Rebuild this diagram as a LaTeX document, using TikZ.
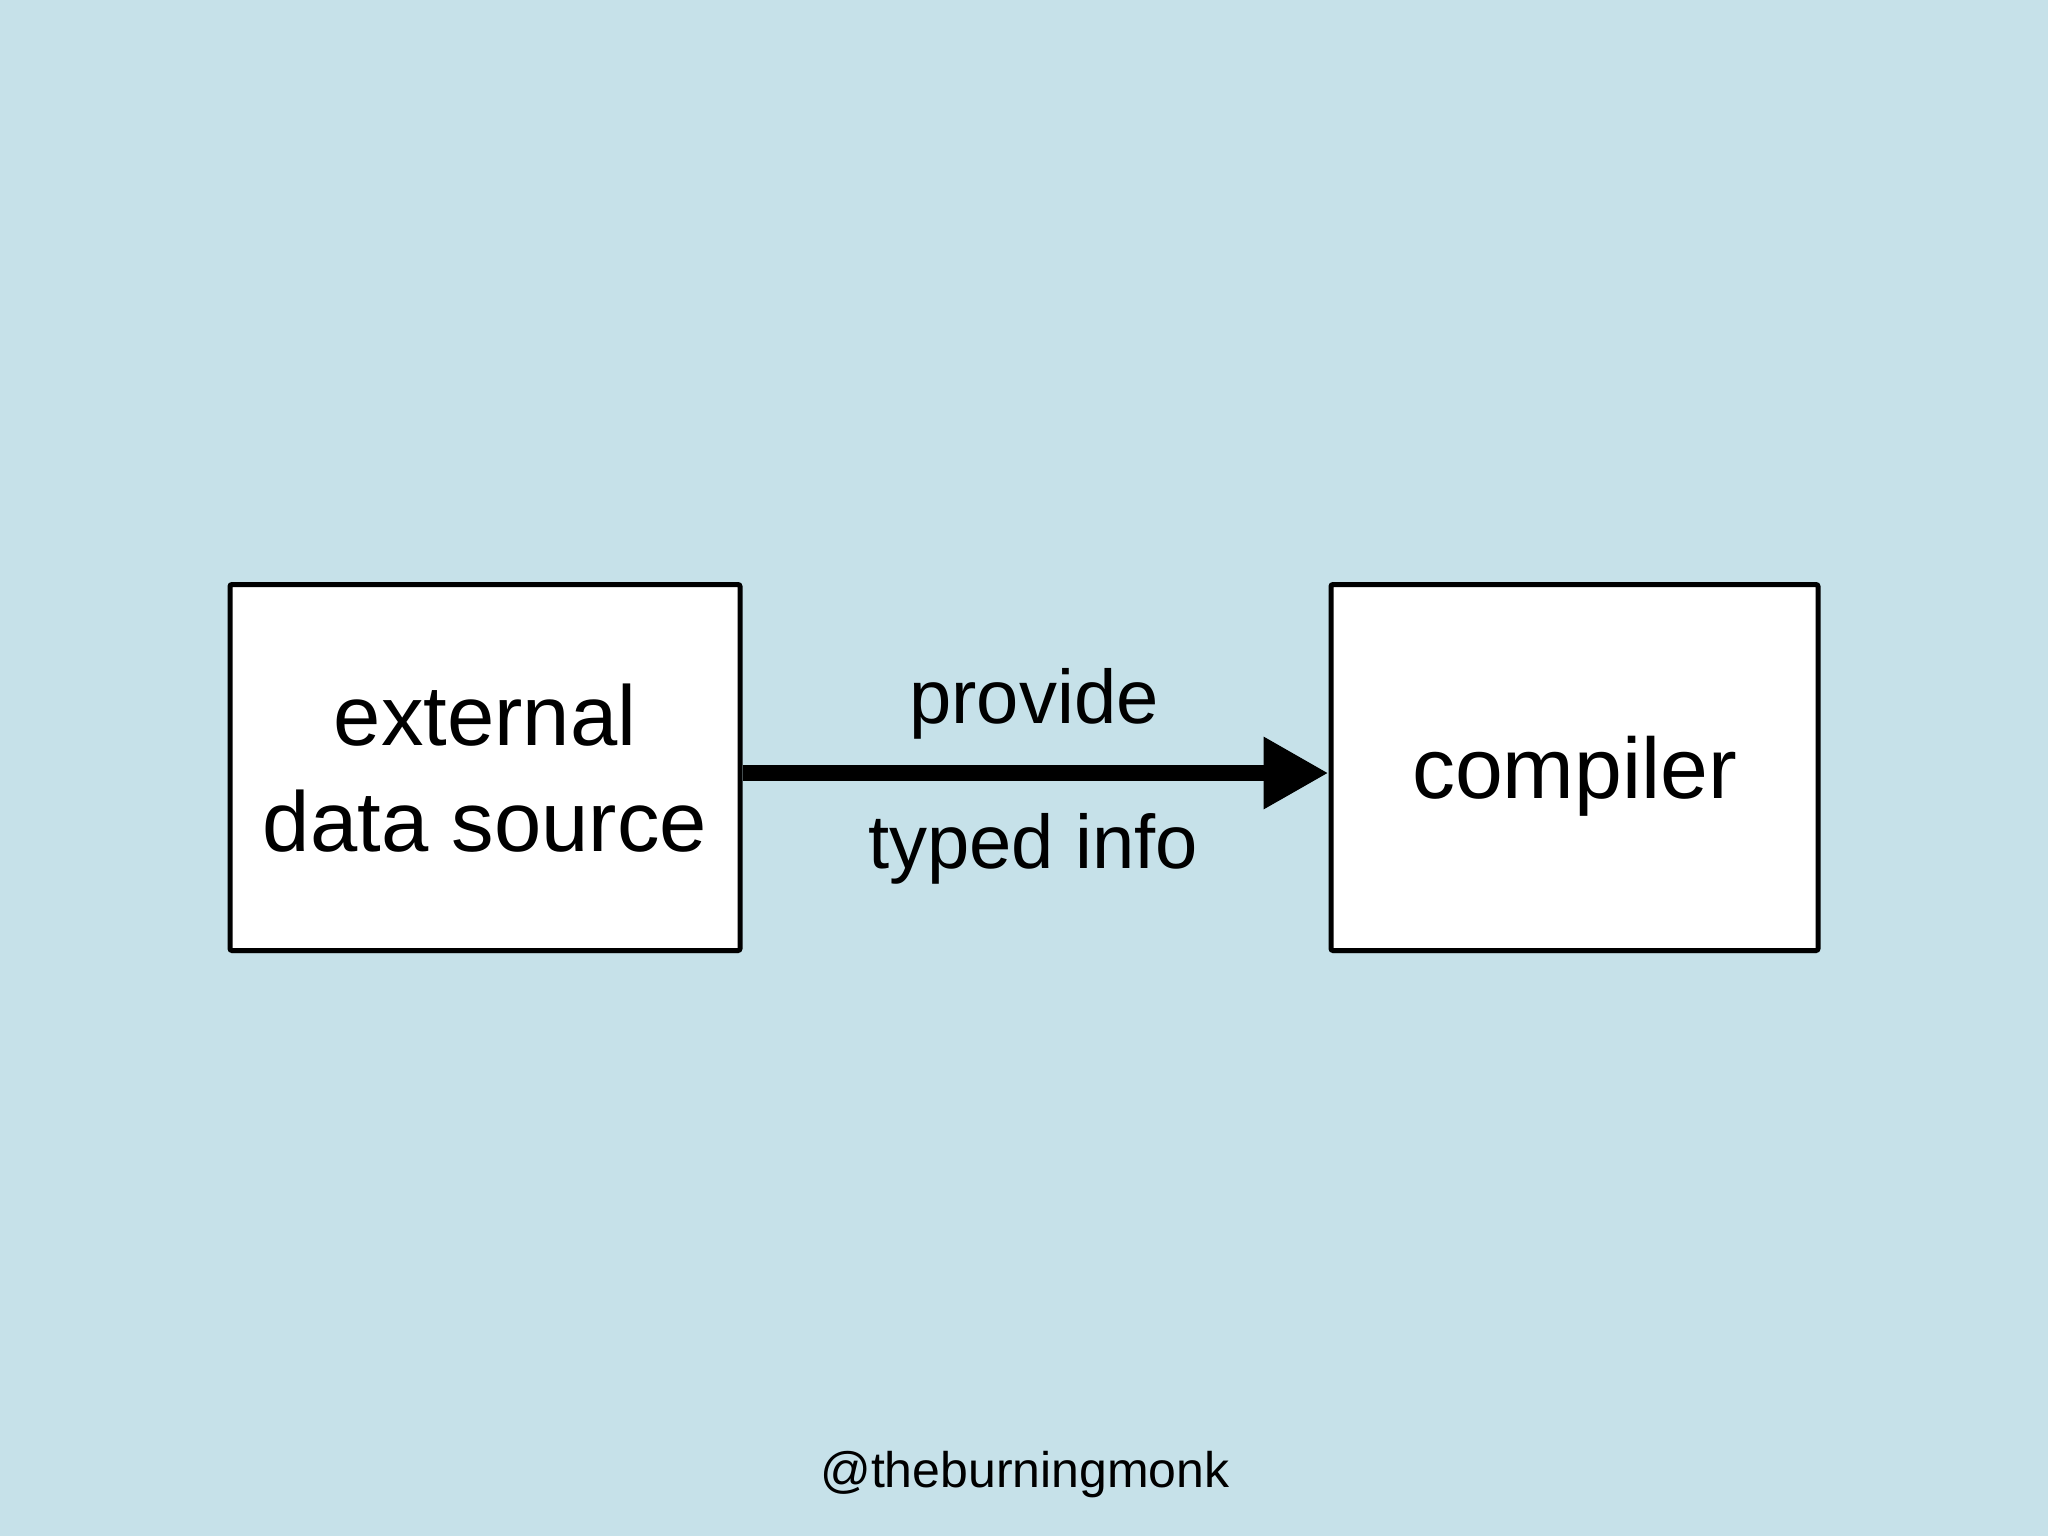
\documentclass[tikz,border=0pt]{standalone}
\usepackage{fontspec}
\setmainfont{Liberation Sans}
\usetikzlibrary{arrows.meta,shadows}
\definecolor{bg}{HTML}{C6E1E9}
\tikzset{
  blockbox/.style={draw=black, fill=white, line width=5pt, rounded corners=2pt,
    inner sep=0pt, align=center, text depth=0pt,
    drop shadow={shadow xshift=0pt, shadow yshift=-3pt, opacity=0.18}},
  biglabel/.style={font=\fontsize{85}{106}\selectfont},
  arrlabel/.style={font=\fontsize{76}{90}\selectfont, anchor=base, inner sep=0pt},
  flow/.style={line width=16pt, -{Triangle[length=65pt,width=68pt]}}
}
\begin{document}
\begin{tikzpicture}[x=1pt,y=-1pt]
\fill[bg] (0,0) rectangle (2048,1536);
\useasboundingbox (0,0) rectangle (2048,1536);
\node[blockbox, biglabel, minimum width=510pt, minimum height=366pt] (src) at (485,767.5) {external\\data source};
\node[blockbox, font=\fontsize{86}{100}\selectfont, minimum width=487pt, minimum height=366pt] (cmp) at (1574.5,767.5) {compiler};
\draw[flow] ([yshift=-5.5pt]src.east) -- ([yshift=-5.5pt]cmp.west);
\node[arrlabel] (provide) at (1034,723) {provide};
\node[arrlabel] (typed) at (1033,868) {typed info};
\node[anchor=base, inner sep=0pt, font=\fontsize{50}{60}\selectfont] (credit) at (1025,1487) {@theburningmonk};
\end{tikzpicture}
\end{document}
